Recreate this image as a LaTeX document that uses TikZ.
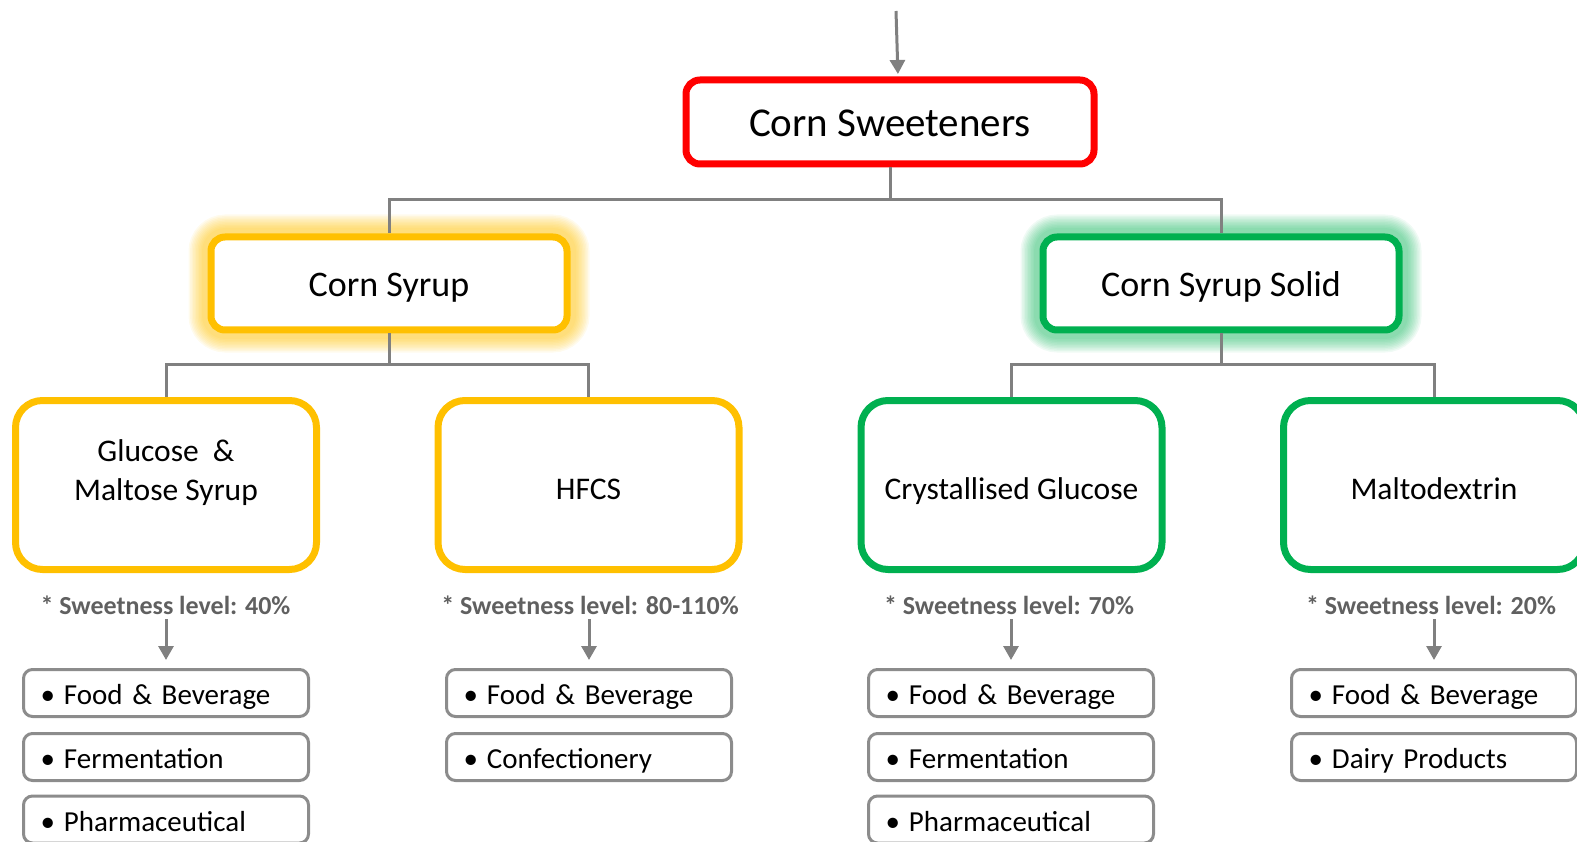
\documentclass[tikz,border=0pt]{standalone}
\usepackage{fontspec}
\setmainfont{Carlito}
\usetikzlibrary{arrows.meta}
\pgfdeclarelayer{glow}
\pgfsetlayers{glow,main}
\definecolor{cred}{HTML}{FF0000}
\definecolor{cyel}{HTML}{FFC000}
\definecolor{cgrn}{HTML}{00B050}
\definecolor{cline}{HTML}{808080}
\definecolor{clab}{HTML}{606060}
\definecolor{cbox}{HTML}{8C8C8C}
\begin{document}
\begin{tikzpicture}[x=1pt,y=-1pt,
  conn/.style={draw=cline, line width=3pt},
  arr/.style={draw=cline, line width=3pt, -{Triangle[width=15pt,length=14pt]}},
  box/.style={draw, fill=white, line width=7pt, inner sep=0pt, align=center},
  topbox/.style={box, draw=cred, rounded corners=14pt, minimum width=408pt, minimum height=84pt, font=\fontsize{41}{49}\selectfont, text height=30pt, text depth=0pt},
  midbox/.style={box, rounded corners=14pt, minimum width=356pt, minimum height=93pt, font=\fontsize{36}{43}\selectfont, text height=30pt, text depth=3pt},
  subbox/.style={box, rounded corners=27pt, minimum width=301pt, minimum height=169pt, font=\fontsize{31.5}{38.3}\selectfont, text height=30pt, text depth=2pt},
  subtext/.style={inner sep=0pt, align=center, font=\fontsize{31.5}{38.3}\selectfont},
  lbl/.style={font=\bfseries\fontsize{26}{30}\selectfont, text=clab, inner sep=0pt, text depth=0pt, anchor=base},
  item/.style={draw=cbox, line width=3pt, fill=white, rounded corners=9pt, minimum width=285pt, minimum height=47pt, inner sep=0pt, inner xsep=17pt, text width=251pt, align=left, font=\fontsize{29}{34}\selectfont, text height=28pt, text depth=4.6pt},
  glowline/.style={line width=#1, rounded corners=18pt}
]
\clip (0,0) rectangle (1577,842);
\useasboundingbox (0,0) rectangle (1577,842);

% top level
\node[topbox] (cs) at (890,122) {Corn Sweeteners};
\coordinate (src) at (896,11);
\draw[arr, shorten >=2.5pt] (src) -- ([xshift=8pt]cs.north);

% second level
\node[midbox, draw=cyel] (syrup) at (389,283.5) {Corn Syrup};
\node[midbox, draw=cgrn] (solid) at (1221,283.5) {Corn Syrup Solid};

\begin{pgfonlayer}{glow}
\foreach \w in {38,35,32,29,26,23,20,17,14,11}
  \draw[cyel, opacity=0.07, glowline=\w pt] (syrup.north west) rectangle (syrup.south east);
\foreach \w in {38,35,32,29,26,23,20,17,14,11}
  \draw[cgrn, opacity=0.06, glowline=\w pt] (solid.north west) rectangle (solid.south east);
\end{pgfonlayer}

\coordinate (h1) at (0,200);
\draw[conn] (cs.south) -- (cs.south |- h1) -| (syrup.north);
\draw[conn] (cs.south |- h1) -| (solid.north);

% third level
\node[subbox, draw=cyel] (gms) at (166,485) {};
\node[subtext] (gmsT) at (166,472.5) {Glucose\ \ \&\\Maltose Syrup};
\node[subbox, draw=cyel] (hfcs) at (588.5,485) {HFCS};
\node[subbox, draw=cgrn] (cg) at (1011.5,485) {Crystallised Glucose};
\node[subbox, draw=cgrn] (md) at (1434,485) {Maltodextrin};

\coordinate (h2) at (0,364);
\draw[conn] (syrup.south) -- (syrup.south |- h2) -| (gms.north);
\draw[conn] (syrup.south |- h2) -| (hfcs.north);
\draw[conn] (solid.south) -- (solid.south |- h2) -| (cg.north);
\draw[conn] (solid.south |- h2) -| (md.north);

% sweetness labels
\node[lbl] (l1) at (165.5,614) {* Sweetness level: 40\%};
\node[lbl] (l2) at (590,614) {* Sweetness level: 80-110\%};
\node[lbl] (l3) at (1009,614) {* Sweetness level: 70\%};
\node[lbl] (l4) at (1431,614) {* Sweetness level: 20\%};

% application boxes
\node[item] (a1) at (166,693) {•\hspace{9pt}Food \& Beverage};
\node[item] (a2) at (166,757) {•\hspace{9pt}Fermentation};
\node[item] (a3) at (166,819.5) {•\hspace{9pt}Pharmaceutical};

\node[item] (b1) at (589,693) {•\hspace{9pt}Food \& Beverage};
\node[item] (b2) at (589,757) {•\hspace{9pt}Confectionery};

\node[item] (c1) at (1011,693) {•\hspace{9pt}Food \& Beverage};
\node[item] (c2) at (1011,757) {•\hspace{9pt}Fermentation};
\node[item] (c3) at (1011,819.5) {•\hspace{9pt}Pharmaceutical};

\node[item] (d1) at (1434,693) {•\hspace{9pt}Food \& Beverage};
\node[item] (d2) at (1434,757) {•\hspace{9pt}Dairy Products};

\draw[arr, shorten <=5pt, shorten >=8pt] (a1.north |- l1.south) -- (a1.north);
\draw[arr, shorten <=5pt, shorten >=8pt] (b1.north |- l2.south) -- (b1.north);
\draw[arr, shorten <=5pt, shorten >=8pt] (c1.north |- l3.south) -- (c1.north);
\draw[arr, shorten <=5pt, shorten >=8pt] (d1.north |- l4.south) -- (d1.north);
\end{tikzpicture}
\end{document}
